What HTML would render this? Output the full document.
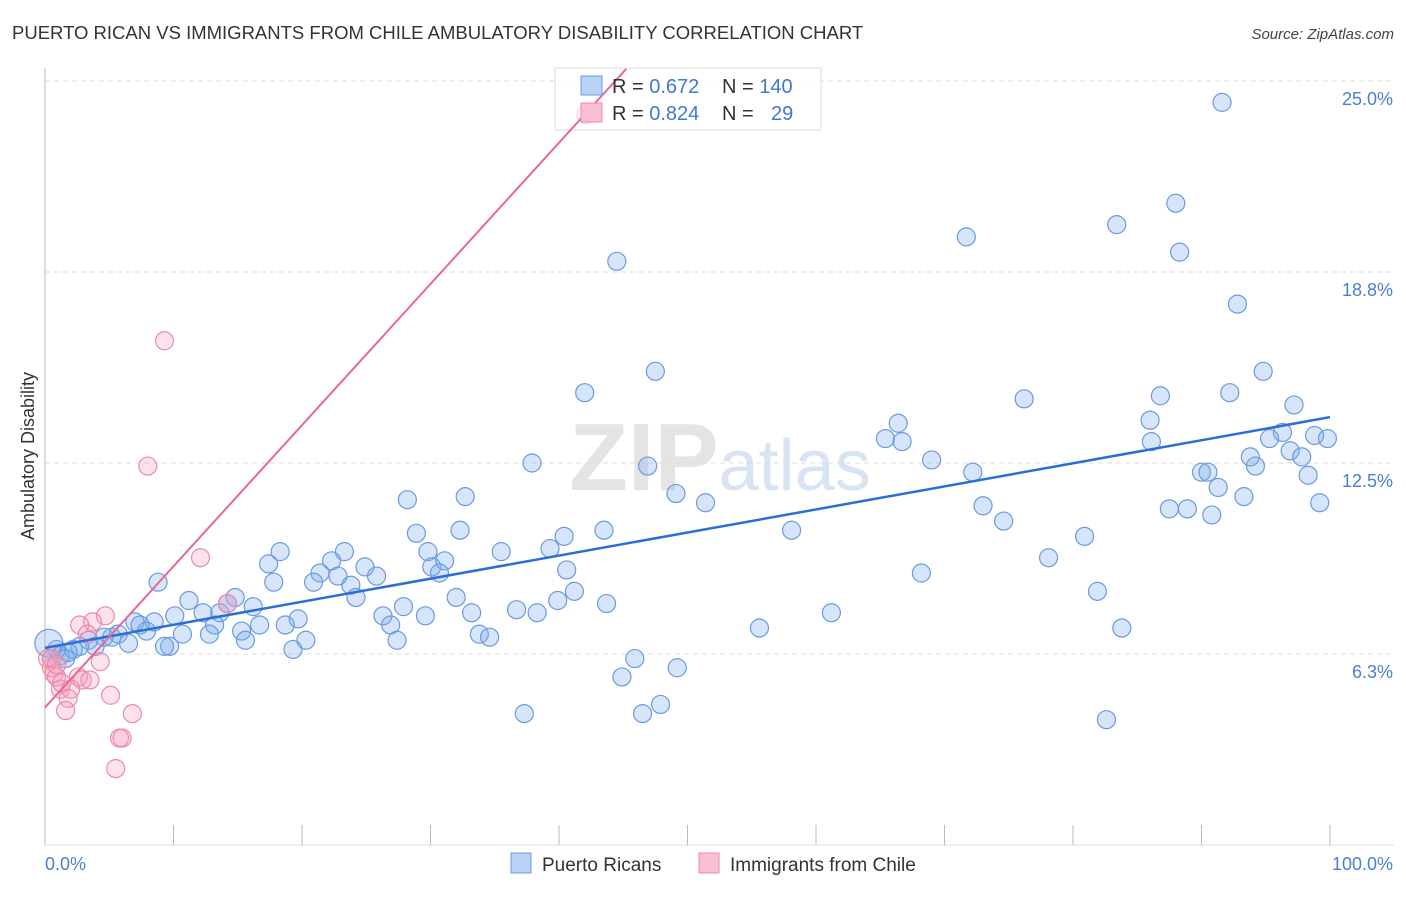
<!DOCTYPE html>
<html><head><meta charset="utf-8"><style>
body{margin:0;background:#fff;font-family:"Liberation Sans",sans-serif;}
svg text{font-family:"Liberation Sans",sans-serif;}
</style></head><body>
<svg id="chart" width="1406" height="892" xmlns="http://www.w3.org/2000/svg">
<text x="12" y="39" font-size="18.5" fill="#333">PUERTO RICAN VS IMMIGRANTS FROM CHILE AMBULATORY DISABILITY CORRELATION CHART</text>
<text x="1394" y="39" font-size="15" fill="#444" text-anchor="end" font-style="italic">Source: ZipAtlas.com</text>
<text x="720" y="490" font-size="96" fill="#e4e4e4" text-anchor="middle" font-family="Liberation Serif" font-weight="bold">ZIP<tspan fill="#d8e4f4" font-family="Liberation Sans" font-weight="normal" font-size="72">atlas</tspan></text>
<g id="grid"></g><g id="axes"></g>
<rect x="555" y="68" width="266" height="62" fill="#fff" fill-opacity="0.75" stroke="#ddd"/>
<g id="pts"></g><g id="trend"></g>
<text transform="translate(34,456) rotate(-90)" font-size="18" fill="#333" text-anchor="middle">Ambulatory Disability</text>
<text x="45" y="870" font-size="18" fill="#4a7fd6">0.0%</text>
<text x="1393" y="870" font-size="18" fill="#4a7fd6" text-anchor="end">100.0%</text>
<g>
<rect x="581" y="76" width="21" height="19" fill="#b8d2f5" stroke="#6a9be0"/>
<rect x="581" y="103" width="21" height="19" fill="#f9c0d0" stroke="#ec8aa8"/>
<text x="612" y="93" font-size="20" fill="#333">R = <tspan fill="#3f78d4">0.672</tspan>  <tspan x="722">N = </tspan><tspan fill="#3f78d4">140</tspan></text>
<text x="612" y="120" font-size="20" fill="#333">R = <tspan fill="#3f78d4">0.824</tspan>  <tspan x="722">N = </tspan><tspan fill="#3f78d4" x="771">29</tspan></text>
</g>
<g>
<rect x="511" y="853" width="20" height="20" fill="#b8d2f5" stroke="#6a9be0"/>
<text x="542" y="871" font-size="19" fill="#333">Puerto Ricans</text>
<rect x="699" y="853" width="20" height="20" fill="#f9c0d0" stroke="#ec8aa8"/>
<text x="730" y="871" font-size="19" fill="#333">Immigrants from Chile</text>
</g>
</svg>
<script>
const yTicks=[6.25,12.5,18.75,25];
const yTickLabels=["6.3%","12.5%","18.8%","25.0%"];
const xTicks=[0,10,20,30,40,50,60,70,80,90,100];
const blueX=[91.6,88.0,83.4,71.7,88.3,44.5,92.8,47.5,42.0,94.8,86.8,76.2,92.2,97.2,66.4,86.0,65.4,66.7,96.3,95.3,86.1,99.8,98.8,96.9,93.8,97.8,94.2,69.0,46.9,37.9,72.2,90.0,90.5,98.3,91.3,93.3,49.1,51.4,28.2,32.7,73.0,87.5,88.9,90.8,99.2,74.6,58.1,32.3,28.9,43.5,40.4,80.9,78.1,35.5,39.3,29.8,23.3,18.3,22.3,24.9,30.1,31.1,17.4,40.6,8.8,21.4,20.9,30.7,25.8,22.8,17.8,68.2,23.8,24.2,41.2,81.9,14.8,11.2,32.0,39.9,43.7,14.2,16.2,27.9,36.7,12.3,26.3,33.2,38.3,29.6,10.1,13.6,19.7,8.5,7.0,7.4,26.9,61.2,16.7,18.7,13.2,55.6,83.8,33.8,34.6,10.7,15.3,12.8,7.9,5.7,6.5,4.6,5.2,3.4,27.4,20.3,9.7,15.6,9.3,2.7,3.9,19.3,2.2,0.9,1.2,1.8,1.6,0.5,45.9,49.2,44.9,47.9,46.5,37.3,82.6,0.3];
const blueY=[24.3,21.0,20.3,19.9,19.4,19.1,17.7,15.5,14.8,15.5,14.7,14.6,14.8,14.4,13.8,13.9,13.3,13.2,13.5,13.3,13.2,13.3,13.4,12.9,12.7,12.7,12.4,12.6,12.4,12.5,12.2,12.2,12.2,12.1,11.7,11.4,11.5,11.2,11.3,11.4,11.1,11.0,11.0,10.8,11.2,10.6,10.3,10.3,10.2,10.3,10.1,10.1,9.4,9.6,9.7,9.6,9.6,9.6,9.3,9.1,9.1,9.3,9.2,9.0,8.6,8.9,8.6,8.9,8.8,8.8,8.6,8.9,8.5,8.1,8.3,8.3,8.1,8.0,8.1,8.0,7.9,7.9,7.8,7.8,7.7,7.6,7.5,7.6,7.6,7.5,7.5,7.6,7.4,7.3,7.3,7.2,7.2,7.6,7.2,7.2,7.2,7.1,7.1,6.9,6.8,6.9,7.0,6.9,7.0,6.9,6.6,6.8,6.8,6.7,6.7,6.7,6.5,6.7,6.5,6.5,6.5,6.4,6.4,6.4,6.2,6.3,6.1,6.1,6.1,5.8,5.5,4.6,4.3,4.3,4.1,6.6];
const pinkX=[42.1,9.3,8.0,12.1,14.2,4.7,3.7,2.7,3.3,4.3,0.5,0.7,0.9,2.6,2.9,1.2,2.0,1.8,5.1,1.6,6.8,5.8,6.0,5.5,0.2,0.5,0.9,3.5,1.3];
const pinkY=[23.9,16.5,12.4,9.4,7.9,7.5,7.3,7.2,6.9,6.0,5.8,5.6,5.5,5.5,5.4,5.1,5.1,4.8,4.9,4.4,4.3,3.5,3.5,2.5,6.1,6.1,5.9,5.4,5.3];
const blueTrend=[6.45,0.0755];
const pinkTrend=[4.5,0.462];
const X0=45,X1=1330,Y0=845,PY=30.56;
const sx=v=>X0+(X1-X0)*v/100, sy=v=>Y0-v*PY;
const NS="http://www.w3.org/2000/svg";
function mk(tag,attrs,parent){const e=document.createElementNS(NS,tag);for(const k in attrs)e.setAttribute(k,attrs[k]);parent.appendChild(e);return e;}
const grid=document.getElementById('grid'),axes=document.getElementById('axes'),pts=document.getElementById('pts'),tr=document.getElementById('trend');
yTicks.forEach((t,i)=>{
 const l=mk('line',{x1:X0,x2:1394,y1:sy(t),y2:sy(t),stroke:'#ddd','stroke-dasharray':'5,4'},grid);
 
 
 const tx=mk('text',{x:1393,y:sy(t)+24,'font-size':18,fill:'#4a7fd6','text-anchor':'end'},grid);
 tx.textContent=yTickLabels[i];
 
 
});
const ya=mk('line',{x1:X0,x2:X0,y1:68,y2:Y0,stroke:'#bbb'},axes);


const xa=mk('line',{x1:X0,x2:1394,y1:Y0,y2:Y0,stroke:'#ddd'},axes);


xTicks.forEach(t=>{
 const l=mk('line',{x1:sx(t),x2:sx(t),y1:Y0-20,y2:Y0,stroke:'#bbb'},axes);
 
 
});
blueX.forEach((x,i)=>{
 const big=i===blueX.length-1;
 const c=mk('circle',{cx:sx(x),cy:sy(blueY[i]),r:big?14:9,fill:'rgba(120,170,235,0.3)',stroke:'#6a9be0','stroke-width':1.2},pts);
 
 
});
pinkX.forEach((x,i)=>{
 const c=mk('circle',{cx:sx(x),cy:sy(pinkY[i]),r:9,fill:'rgba(245,160,190,0.3)',stroke:'#ec8aa8','stroke-width':1.2,opacity:i===0?0.35:1},pts);
 
 
});
const bl=mk('line',{x1:sx(0),y1:sy(blueTrend[0]),x2:sx(100),y2:sy(blueTrend[0]+blueTrend[1]*100),stroke:'#2a6fd6','stroke-width':2.5},tr);


const pxEnd=(25.4-pinkTrend[0])/pinkTrend[1];
const pl=mk('line',{x1:sx(0),y1:sy(pinkTrend[0]),x2:sx(pxEnd),y2:sy(25.4),stroke:'#e8698f','stroke-width':2},tr);


</script>
</body></html>
